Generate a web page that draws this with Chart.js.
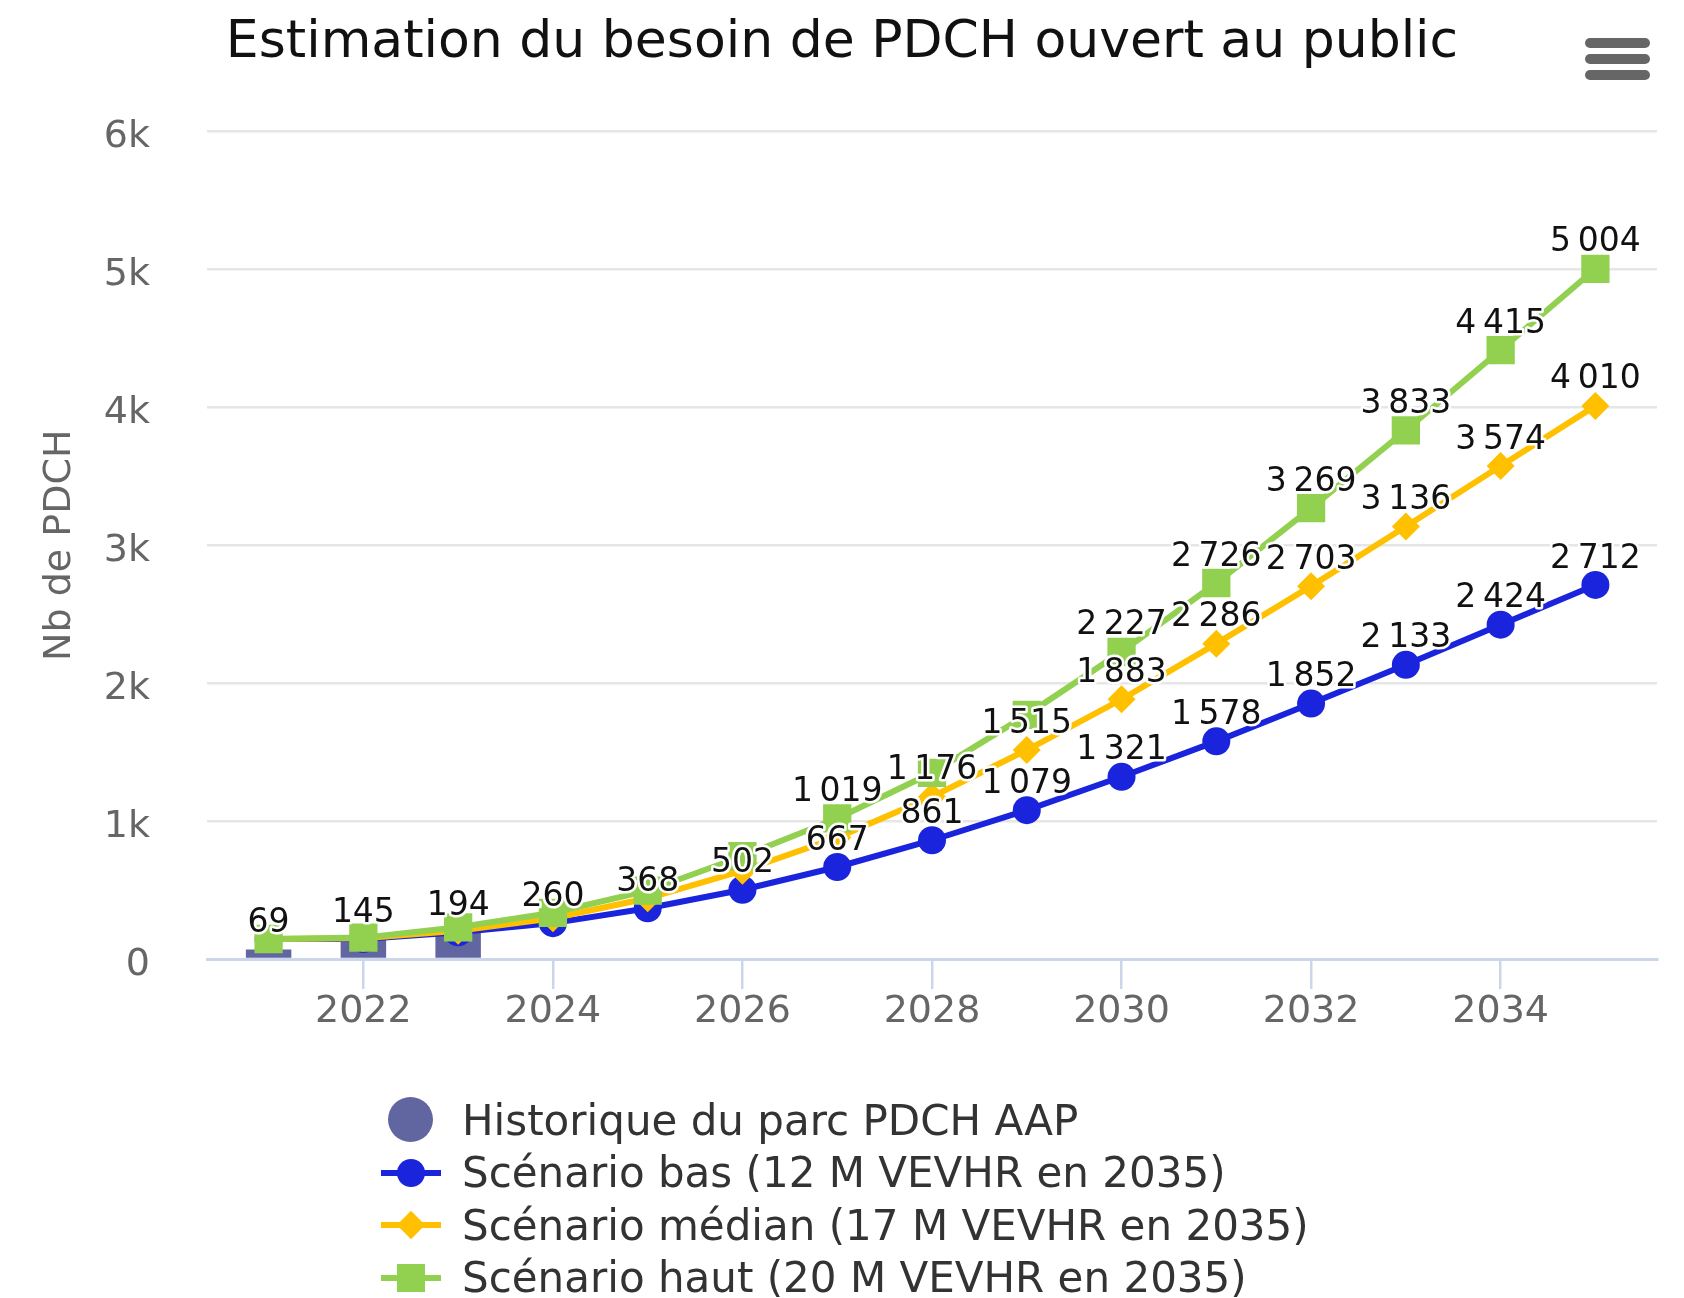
<!DOCTYPE html>
<html>
<head>
<meta charset="utf-8">
<script src="https://cdn.jsdelivr.net/npm/chart.js@4.4.0/dist/chart.umd.min.js"></script>
<style>
  html, body { margin: 0; padding: 0; background: #fff; }
  #wrap { position: relative; width: 1684px; height: 1298px; overflow: hidden; font-family: "DejaVu Sans", sans-serif; }
  #chart { position: absolute; left: 0; top: 0; }
  .menu { position: absolute; left: 1585px; top: 38px; width: 65px; }
  .menu span { display: block; height: 10px; border-radius: 5px; background: #666; margin-bottom: 6px; }
  #legend { position: absolute; left: 381px; top: 1094px; }
  .item { height: 52.5px; display: flex; align-items: center; font-size: 42px; color: #333; white-space: nowrap; }
  .sym { width: 60px; height: 52px; position: relative; margin-right: 21px; flex: none; }
  .sym .dot { position: absolute; left: 7px; top: 3px; width: 45px; height: 45px; border-radius: 50%; }
  .sym .ln { position: absolute; left: 0; top: 23px; width: 60px; height: 6px; }
  .sym .mk { position: absolute; left: 16px; top: 12px; width: 28px; height: 28px; }
  .sym .mk.circle { border-radius: 50%; }
  .sym .mk.diamond { width: 20px; height: 20px; left: 20px; top: 16px; transform: rotate(45deg); }
</style>
</head>
<body>
<div id="wrap">
  <canvas id="chart" width="1684" height="1298"></canvas>
  <div class="menu"><span></span><span></span><span></span></div>
  <div id="legend"></div>
</div>
<script>
// Data
const years = [2021, 2022, 2023, 2024, 2025, 2026, 2027, 2028, 2029, 2030, 2031, 2032, 2033, 2034, 2035];
const historiqueYears = [2021, 2022, 2023];
const historique = [69, 145, 194];
const scenarioBas = [145, 145, 194, 260, 368, 502, 667, 861, 1079, 1321, 1578, 1852, 2133, 2424, 2712];
const scenarioMedian = [145, 150, 205, 295, 440, 640, 880, 1176, 1515, 1883, 2286, 2703, 3136, 3574, 4010];
const scenarioHaut = [145, 155, 230, 335, 495, 745, 1019, 1350, 1770, 2227, 2726, 3269, 3833, 4415, 5004];
const yTicks = [0, 1000, 2000, 3000, 4000, 5000, 6000];

const FONT = '"DejaVu Sans", sans-serif';

const series = [
  { label: 'Historique du parc PDCH AAP', type: 'bar', x: historiqueYears, y: historique, color: '#6266a0', marker: 'dot' },
  { label: 'Scénario bas (12 M VEVHR en 2035)', type: 'line', x: years, y: scenarioBas, color: '#1a24dc', marker: 'circle', pointStyle: 'circle', radius: 14 },
  { label: 'Scénario médian (17 M VEVHR en 2035)', type: 'line', x: years, y: scenarioMedian, color: '#ffc000', marker: 'diamond', pointStyle: 'rectRot', radius: 14 },
  { label: 'Scénario haut (20 M VEVHR en 2035)', type: 'line', x: years, y: scenarioHaut, color: '#92d050', marker: 'square', pointStyle: 'rect', radius: 20 }
];

const fmt = (v) => String(v).replace(/\B(?=(\d{3})+(?!\d))/g, '\u202F');

const datasets = series.map((s, i) => {
  const data = s.x.map((x, k) => ({ x: x, y: s.y[k] }));
  if (s.type === 'bar') {
    return { type: 'bar', label: s.label, data, backgroundColor: s.color, barPercentage: 0.48, categoryPercentage: 1, order: 4 };
  }
  return {
    type: 'line', label: s.label, data, borderColor: s.color, backgroundColor: s.color,
    borderWidth: 6, pointStyle: s.pointStyle, pointRadius: s.radius, pointBorderWidth: 0,
    pointBackgroundColor: s.color, tension: 0, order: 4 - i
  };
});

// Data labels, hiding the ones that overlap (columns first, then series order)
const pointLabels = {
  id: 'pointLabels',
  afterDatasetsDraw(chart) {
    const ctx = chart.ctx;
    ctx.save();
    ctx.font = '33px ' + FONT;
    const items = [];
    chart.data.datasets.forEach((ds, di) => {
      const meta = chart.getDatasetMeta(di);
      meta.data.forEach((el, i) => {
        const text = fmt(ds.data[i].y);
        const w = ctx.measureText(text).width;
        const rank = meta.type === 'bar' ? el.base - el.y : 0;
        items.push({ x: el.x, y: el.y - 26, w: w - 4, h: 38, text, rank, idx: items.length });
      });
    });
    items.sort((a, b) => (b.rank - a.rank) || (a.idx - b.idx));
    const shown = [];
    items.forEach(it => {
      const hit = shown.some(o => Math.abs(o.x - it.x) < (o.w + it.w) / 2 && Math.abs(o.y - it.y) < (o.h + it.h) / 2);
      if (!hit) shown.push(it);
    });
    ctx.textAlign = 'center';
    ctx.textBaseline = 'middle';
    ctx.lineJoin = 'round';
    shown.forEach(it => {
      ctx.lineWidth = 5;
      ctx.strokeStyle = '#fff';
      ctx.strokeText(it.text, it.x, it.y);
      ctx.fillStyle = '#111';
      ctx.fillText(it.text, it.x, it.y);
    });
    ctx.restore();
  }
};

new Chart(document.getElementById('chart'), {
  data: { datasets },
  options: {
    responsive: false,
    animation: false,
    events: [],
    layout: { padding: { left: 27, right: 27, top: 0, bottom: 259 } },
    plugins: {
      legend: { display: false },
      tooltip: { enabled: false },
      title: {
        display: true,
        text: 'Estimation du besoin de PDCH ouvert au public',
        color: '#111',
        font: { family: FONT, size: 52, weight: 'normal' },
        padding: { top: 12, bottom: 57 }
      }
    },
    scales: {
      x: {
        type: 'linear',
        offset: false,
        min: 2020.35,
        max: 2035.65,
        afterBuildTicks: (scale) => {
          scale.ticks = years.filter(y => y % 2 === 0).map(v => ({ value: v }));
        },
        afterFit: (scale) => { scale.height = 80; },
        grid: { offset: false, drawOnChartArea: false, drawTicks: true, tickLength: 30, color: '#ccd6eb', lineWidth: 2.5 },
        border: { color: '#ccd6eb', width: 3 },
        ticks: { color: '#666', font: { family: FONT, size: 38 }, padding: 0, maxRotation: 0, autoSkip: false, callback: (v) => String(v) }
      },
      y: {
        min: 0,
        max: 6000,
        afterBuildTicks: (scale) => { scale.ticks = yTicks.map(v => ({ value: v })); },
        afterFit: (scale) => { scale.width = 180; },
        grid: { color: (c) => c.tick && c.tick.value === 0 ? 'rgba(0,0,0,0)' : '#e6e6e6', lineWidth: 2.5, drawTicks: false },
        border: { display: false },
        ticks: { color: '#666', font: { family: FONT, size: 38 }, padding: 57, labelOffset: 6, callback: (v) => v === 0 ? '0' : (v / 1000) + 'k' },
        title: { display: true, text: 'Nb de PDCH', color: '#666', font: { family: FONT, size: 38 }, padding: { top: 10 } }
      }
    }
  },
  plugins: [pointLabels]
});

// Legend
const legend = document.getElementById('legend');
series.forEach(s => {
  const row = document.createElement('div');
  row.className = 'item';
  const sym = document.createElement('div');
  sym.className = 'sym';
  if (s.marker === 'dot') {
    sym.innerHTML = `<div class="dot" style="background:${s.color}"></div>`;
  } else {
    sym.innerHTML = `<div class="ln" style="background:${s.color}"></div><div class="mk ${s.marker}" style="background:${s.color}"></div>`;
  }
  const txt = document.createElement('span');
  txt.textContent = s.label;
  row.appendChild(sym);
  row.appendChild(txt);
  legend.appendChild(row);
});
</script>
</body>
</html>
